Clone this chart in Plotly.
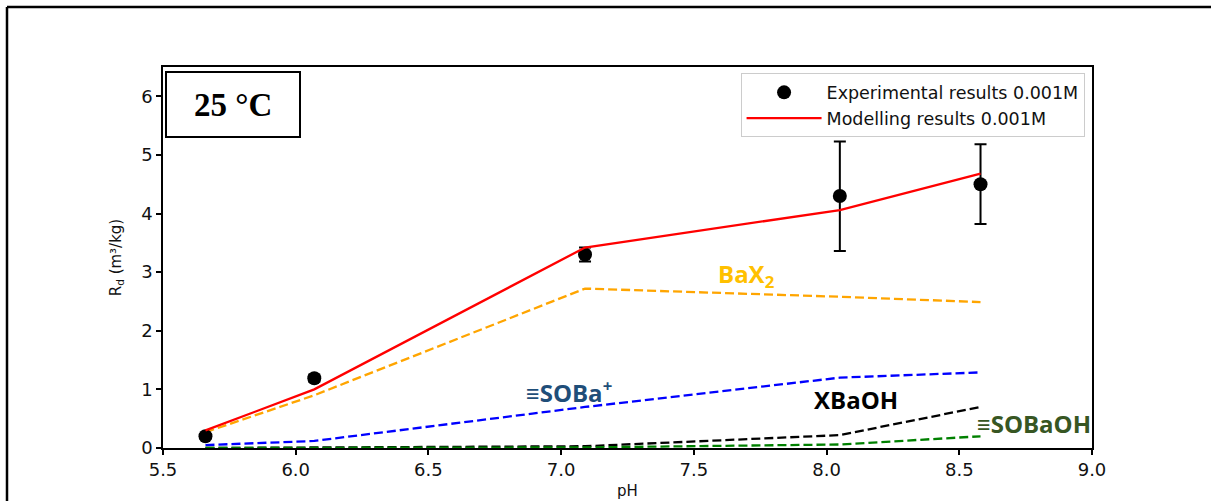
import plotly.graph_objects as go

# Sorption of Ba at 25 °C versus pH
ph_exp = [5.66, 6.07, 7.09, 8.05, 8.58]
rd_exp = [0.20, 1.19, 3.30, 4.30, 4.50]
err_plus = [0.04, 0.06, 0.12, 0.93, 0.68]
err_minus = [0.04, 0.06, 0.12, 0.94, 0.68]

ph_model = [5.66, 6.07, 7.09, 8.05, 8.58]
rd_model = [0.30, 1.00, 3.42, 4.06, 4.68]
rd_bax2 = [0.27, 0.90, 2.72, 2.58, 2.49]
rd_soba = [0.05, 0.12, 0.70, 1.20, 1.29]
rd_xbaoh = [0.00, 0.005, 0.03, 0.22, 0.70]
rd_sobaoh = [0.00, 0.00, 0.01, 0.06, 0.20]

x_ticks = [5.5, 6.0, 6.5, 7.0, 7.5, 8.0, 8.5, 9.0]
y_ticks = [0, 1, 2, 3, 4, 5, 6]

W, H = 1211, 501
L, R, T, B = 163, 119, 67, 53
pw, ph = W - L - R, H - T - B


def px_x(px):
    return (px - L) / pw


def px_y(py):
    return (H - B - py) / ph


dash = "9px,4px"
fig = go.Figure()

species = [
    (rd_bax2, "#FFA500"),
    (rd_soba, "#0000FF"),
    (rd_xbaoh, "#000000"),
    (rd_sobaoh, "#008000"),
]
for vals, col in species:
    fig.add_trace(go.Scatter(x=ph_model, y=vals, mode="lines",
                             line=dict(color=col, width=2.3, dash=dash),
                             showlegend=False, hoverinfo="skip"))

fig.add_trace(go.Scatter(
    x=ph_exp, y=rd_exp, mode="markers", name="Experimental results 0.001M",
    marker=dict(color="black", size=14),
    error_y=dict(type="data", array=err_plus, arrayminus=err_minus,
                 color="black", thickness=2, width=6)))
fig.add_trace(go.Scatter(
    x=ph_model, y=rd_model, mode="lines", name="Modelling results 0.001M",
    line=dict(color="#FF0000", width=2.3)))

tick_font = dict(family="DejaVu Sans", size=18, color="#111")
fig.update_layout(
    width=W, height=H,
    margin=dict(l=L, r=R, t=T, b=B),
    paper_bgcolor="white", plot_bgcolor="white",
    font=dict(family="DejaVu Sans", color="#111"),
    xaxis=dict(range=[5.5, 9.0], tickvals=x_ticks,
               ticktext=[f"{v:.1f}" for v in x_ticks],
               showgrid=False, zeroline=False, showline=True,
               linecolor="black", linewidth=1.5, mirror=True,
               ticks="outside", ticklen=5, tickcolor="black", tickwidth=1.5,
               tickfont=tick_font, automargin=False,
               title=dict(text="pH", font=dict(family="DejaVu Sans", size=15),
                          standoff=6)),
    yaxis=dict(range=[0, 6.5], tickvals=y_ticks,
               showgrid=False, zeroline=False, showline=True,
               linecolor="black", linewidth=1.5, mirror=True,
               ticks="outside", ticklen=5, tickcolor="black", tickwidth=1.5,
               tickfont=tick_font, automargin=False,
               title=dict(text="R<sub>d</sub> (m³/kg)",
                          font=dict(family="DejaVu Sans", size=15),
                          standoff=16)),
    legend=dict(x=0.992, y=0.983, xanchor="right", yanchor="top",
                bgcolor="white", bordercolor="#cccccc", borderwidth=1,
                font=dict(family="DejaVu Sans", size=17.5, color="#111"),
                itemwidth=75, tracegroupgap=0),
    showlegend=True,
)

# species labels
labels = [
    ("BaX<sub>2</sub>", 7.70, 2.95, "#FFC000"),
    ("≡SOBa<sup>+</sup>", 7.03, 0.96, "#1F4E79"),
    ("XBaOH", 8.11, 0.82, "#000000"),
    ("≡SOBaOH", 8.78, 0.42, "#375623"),
]
for txt, x, y, col in labels:
    fig.add_annotation(x=x, y=y, text=f"<b>{txt}</b>", showarrow=False,
                       font=dict(family="Open Sans", size=24, color=col),
                       xanchor="center", yanchor="middle")

# temperature box
fig.add_annotation(x=px_x(233), y=px_y(105), xref="paper", yref="paper",
                   text="<b>25 °C</b>", showarrow=False,
                   font=dict(family="Liberation Serif", size=33, color="black"),
                   xanchor="center", yanchor="middle")
fig.add_shape(type="rect", xref="paper", yref="paper",
              x0=px_x(166), x1=px_x(300), y0=px_y(137), y1=px_y(72),
              line=dict(color="black", width=2), fillcolor="rgba(0,0,0,0)")

# outer frame (top and left edges)
fig.add_shape(type="line", xref="paper", yref="paper",
              x0=px_x(7), x1=px_x(1212), y0=px_y(7), y1=px_y(7),
              line=dict(color="black", width=2.5))
fig.add_shape(type="line", xref="paper", yref="paper",
              x0=px_x(7), x1=px_x(7), y0=px_y(7), y1=px_y(502),
              line=dict(color="black", width=2.5))

fig.write_html("out.html")
